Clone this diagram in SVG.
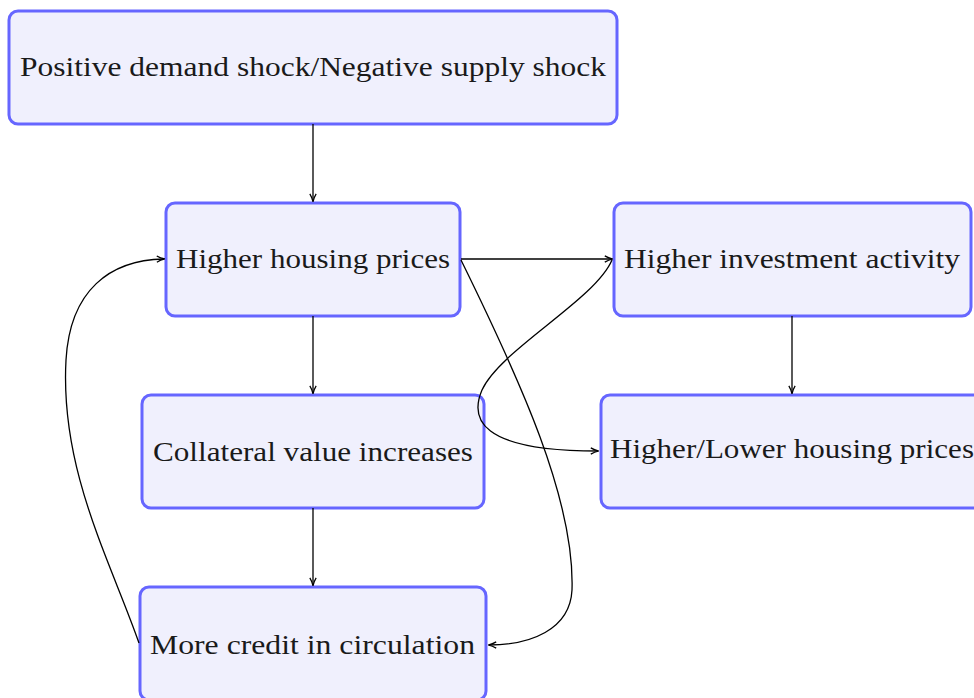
<svg xmlns="http://www.w3.org/2000/svg" width="974" height="698" viewBox="0 0 974 698">
<style>
.box{fill:#f0f0fd;stroke:#6666ff;stroke-width:3}
.lbl{font-family:"Liberation Serif","Times New Roman",serif;font-size:27px;fill:#1a1a1a;text-anchor:middle;dominant-baseline:central}
.c{fill:none;stroke:#000;stroke-width:1.3;marker-end:url(#ah)}
</style>
<defs>
<marker id="ah" viewBox="0 0 10 10" refX="9" refY="5" markerWidth="9" markerHeight="9" markerUnits="userSpaceOnUse" orient="auto">
<path d="M1,1.5 Q5,4 10,5 Q5,6 1,8.5" fill="none" stroke="#000" stroke-width="1.4"/>
</marker>
</defs>
<rect width="974" height="698" fill="#fff"/>
<g id="n1"><rect class="box" x="9" y="11" width="608" height="113" rx="9"/><text class="lbl" x="313" y="67" textLength="586" lengthAdjust="spacingAndGlyphs">Positive demand shock/Negative supply shock</text></g>
<g id="n2"><rect class="box" x="166" y="203" width="294" height="113" rx="9"/><text class="lbl" x="313" y="259" textLength="274" lengthAdjust="spacingAndGlyphs">Higher housing prices</text></g>
<g id="n3"><rect class="box" x="142" y="395" width="342" height="113" rx="9"/><text class="lbl" x="313" y="452" textLength="320" lengthAdjust="spacingAndGlyphs">Collateral value increases</text></g>
<g id="n4"><rect class="box" x="140" y="587" width="346" height="113" rx="9"/><text class="lbl" x="312.5" y="645" textLength="325" lengthAdjust="spacingAndGlyphs">More credit in circulation</text></g>
<g id="n5"><rect class="box" x="614" y="203" width="357" height="113" rx="9"/><text class="lbl" x="792" y="259" textLength="336" lengthAdjust="spacingAndGlyphs">Higher investment activity</text></g>
<g id="n6"><rect class="box" x="601" y="395" width="382" height="113" rx="9"/><text class="lbl" x="792" y="449" textLength="364" lengthAdjust="spacingAndGlyphs">Higher/Lower housing prices</text></g>
<g id="connectors">
<path class="c" d="M313,124 V201"/>
<path class="c" d="M313,316 V393"/>
<path class="c" d="M313,508 V585"/>
<path class="c" d="M792,316 V393"/>
<path class="c" d="M461,259 H612"/>
<path class="c" d="M612,260 C595,300 500,350 482,390 C470,418 478,451 598,451"/>
<path class="c" d="M461,260 C520,380 575,500 572,590 C570,630 530,645 489,645"/>
<path class="c" d="M139,643 C110,560 60,470 66,360 C70,290 110,260 164,259"/>
</g>
</svg>
